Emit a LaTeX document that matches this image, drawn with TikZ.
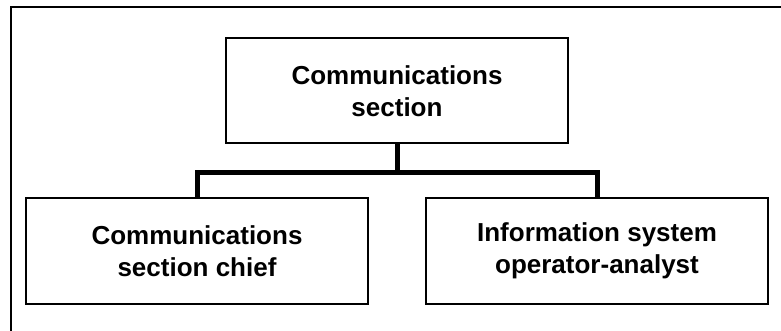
\documentclass[tikz,border=0pt]{standalone}
\usepackage{fontspec}
\setmainfont{Liberation Sans}
\usetikzlibrary{positioning}
\tikzstyle{unit}=[draw,line width=1pt,rectangle,minimum width=171pt,minimum
height=52.5pt,inner sep=0pt,align=center,font=\bfseries\fontsize{13}{16}\selectfont]
\tikzstyle{tree}=[line width=2.5pt]

\begin{document}
\begin{tikzpicture}[node distance=80pt and 100pt, on grid]
  \useasboundingbox (0,0) rectangle (390.5pt,-165.5pt);
  \begin{scope}
    \clip (0,0) rectangle (390.5pt,-165.5pt);
    \draw[line width=1pt] (5.5pt,-3.5pt) rectangle (400pt,-175pt);
  \end{scope}

  \node[unit] (sec) at (198.5pt,-45.5pt) {Communications\\section};
  \node[unit, below left=of sec] (chief) {Communications\\section chief};
  \node[unit, below right=of sec] (isoa) {Information system\\operator-analyst};

  \draw[tree] (sec.south) -- ++(0,-14pt) coordinate (bar);
  \draw[tree] (bar) -| (chief.north) (bar) -| (isoa.north);
\end{tikzpicture}
\end{document}
